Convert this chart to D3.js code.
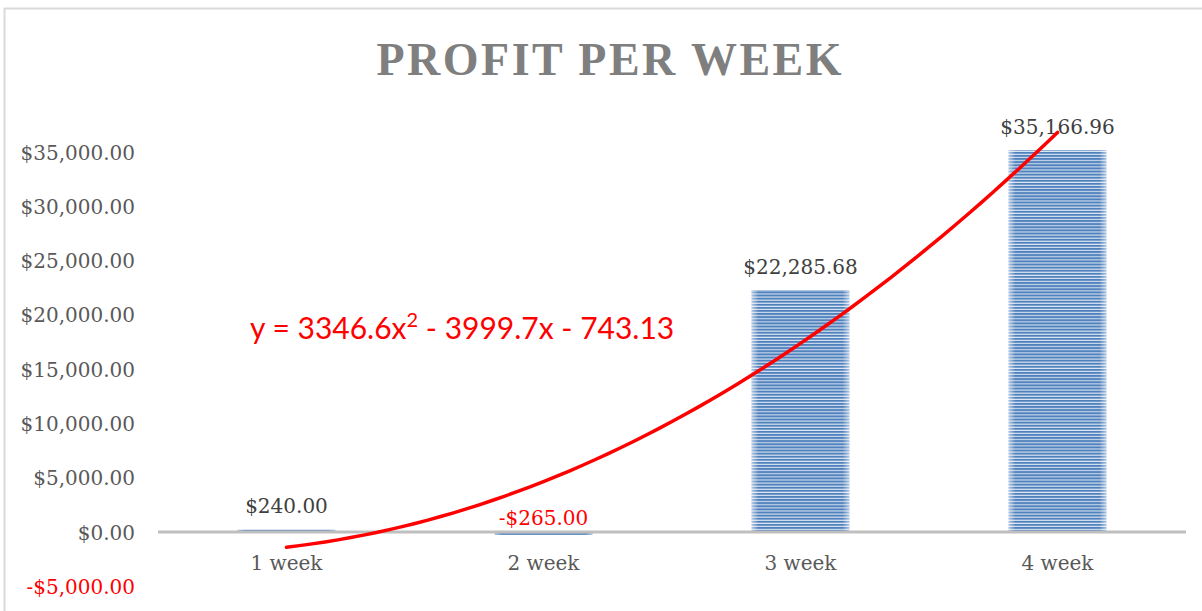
<!DOCTYPE html>
<html>
<head>
<meta charset="utf-8">
<script src="https://cdn.jsdelivr.net/npm/d3@7"></script>
<style>
  html, body { margin: 0; padding: 0; background: #fff; }
  svg { display: block; }
</style>
</head>
<body>
<div id="chart"></div>
<script>
// ---- data ----
const categories = ["1 week", "2 week", "3 week", "4 week"];
const profits = [240.00, -265.00, 22285.68, 35166.96];
const valueLabels = ["$240.00", "-$265.00", "$22,285.68", "$35,166.96"];
const yTicks = [-5000, 0, 5000, 10000, 15000, 20000, 25000, 30000, 35000];
const trendCoefs = [3346.6, -3999.7, -743.13]; // a*x^2 + b*x + c
const titleText = "PROFIT PER WEEK";

// ---- layout ----
const W = 1202, H = 611;
const svg = d3.select("#chart").append("svg").attr("width", W).attr("height", H);
svg.append("rect").attr("width", W).attr("height", H).attr("fill", "#fff");
svg.append("rect").attr("x", 4.5).attr("y", 8.5).attr("width", 1210).attr("height", 620)
  .attr("fill", "none").attr("stroke", "#d9d9d9").attr("stroke-width", 2);

const serif = "'DejaVu Serif', 'Liberation Serif', serif";
const lblSize = 20;

const x = d3.scaleBand().domain(categories).range([158, 1186]).paddingInner(0.62).paddingOuter(0.31);
const y = d3.scaleLinear().domain([-5000, 35000]).range([586.3, 152]);

// pattern
const defs = svg.append("defs");
const pat = defs.append("pattern").attr("id", "stripes").attr("patternUnits", "userSpaceOnUse")
  .attr("width", 10).attr("height", 3.1);
pat.append("rect").attr("width", 10).attr("height", 3.1).attr("fill", "#dce6f2");
pat.append("rect").attr("width", 10).attr("height", 2).attr("fill", "#4f81bd");
const edge = defs.append("linearGradient").attr("id", "edge").attr("x1", 0).attr("x2", 1).attr("y1", 0).attr("y2", 0);
[[0, 0.55], [0.07, 0], [0.93, 0], [1, 0.55]].forEach(([o, a]) =>
  edge.append("stop").attr("offset", o).attr("stop-color", "#fff").attr("stop-opacity", a));

// title
svg.append("text").attr("x", 609).attr("y", 75).attr("text-anchor", "middle")
  .attr("font-family", "'Liberation Serif', serif").attr("font-weight", "bold").attr("font-size", 46)
  .attr("fill", "#7f7f7f").attr("textLength", 465).attr("lengthAdjust", "spacing")
  .text(titleText);

// y axis labels
const yAxis = d3.axisLeft(y).tickValues(yTicks).tickSize(0).tickPadding(0)
  .tickFormat(d => (d < 0 ? "-$" : "$") + d3.format(",.2f")(Math.abs(d)));
const yg = svg.append("g").attr("transform", "translate(135,0)").call(yAxis);
yg.select(".domain").remove();
yg.selectAll("text").attr("font-family", serif).attr("font-size", lblSize)
  .attr("fill", d => d < 0 ? "#ff0000" : "#595959").attr("dy", "0.35em");

// bars
const bars = svg.append("g");
categories.forEach((c, i) => {
  const v = profits[i];
  const y0 = y(Math.max(0, v)), h = Math.abs(y(v) - y(0));
  bars.append("rect").attr("x", x(c)).attr("y", y0).attr("width", x.bandwidth()).attr("height", h)
    .attr("fill", "url(#stripes)");
  bars.append("rect").attr("x", x(c)).attr("y", y0).attr("width", x.bandwidth()).attr("height", h)
    .attr("fill", "url(#edge)");
});

// zero axis
const xAxis = d3.axisBottom(x).tickSize(0).tickPadding(0);
const xg = svg.append("g").attr("transform", `translate(0,${y(0)})`).call(xAxis);
xg.select(".domain").attr("stroke", "#bfbfbf").attr("stroke-width", 3)
  .attr("d", `M158,0H1186`);
xg.selectAll("text").attr("font-family", serif).attr("font-size", lblSize).attr("fill", "#595959")
  .attr("dy", 0).attr("y", 38);

// data labels
categories.forEach((c, i) => {
  const v = profits[i];
  const by = v >= 0 ? y(v) - 16 : y(0) - 7;
  svg.append("text").attr("x", x(c) + x.bandwidth() / 2).attr("y", by).attr("text-anchor", "middle")
    .attr("font-family", serif).attr("font-size", lblSize).attr("fill", v < 0 ? "#ff0000" : "#404040")
    .text(valueLabels[i]);
});

// trendline
const step = x.step();
const cx0 = x(categories[0]) + x.bandwidth() / 2;
const tvals = d3.range(1, 4.0001, 0.05);
const line = d3.line().x(t => cx0 + (t - 1) * step)
  .y(t => y(trendCoefs[0] * t * t + trendCoefs[1] * t + trendCoefs[2]))
  .curve(d3.curveMonotoneX);
svg.append("path").datum(tvals).attr("d", line).attr("fill", "none")
  .attr("stroke", "#ff0000").attr("stroke-width", 3.5).attr("stroke-linecap", "round");

// equation
const eq = svg.append("text").attr("x", 250).attr("y", 339)
  .attr("font-family", "Lato, 'Liberation Sans', sans-serif").attr("font-size", 30).attr("fill", "#ff0000");
eq.append("tspan").text("y = 3346.6x");
eq.append("tspan").attr("dy", -12).attr("font-size", 20).text("2");
eq.append("tspan").attr("dy", 12).text(" - 3999.7x - 743.13");
</script>
</body>
</html>
